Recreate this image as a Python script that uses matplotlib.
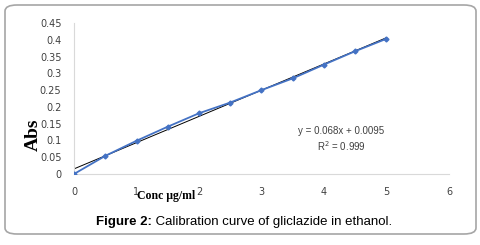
import matplotlib
matplotlib.use("Agg")
import matplotlib.pyplot as plt
from matplotlib.patches import FancyBboxPatch
from matplotlib.ticker import FormatStrFormatter
import numpy as np

# calibration data
conc = [0, 0.5, 1, 1.5, 2, 2.5, 3, 3.5, 4, 4.5, 5]
absorb = [0, 0.054, 0.099, 0.141, 0.181, 0.213, 0.25, 0.285, 0.326, 0.366, 0.403]
eq_text = "y = 0.068x + 0.0095"
r2_text = "R$^2$ = 0.999"
xticks = [0, 1, 2, 3, 4, 5, 6]
yticks = [0, 0.05, 0.1, 0.15, 0.2, 0.25, 0.3, 0.35, 0.4, 0.45]

fig = plt.figure(figsize=(4.81, 2.45), dpi=100)
fig.patch.set_facecolor("white")

# rounded frame around chart + caption
frame = FancyBboxPatch((5 / 481, 11 / 245), 471 / 481, 229 / 245,
                       boxstyle="round,pad=0,rounding_size=0.025",
                       transform=fig.transFigure, fill=False,
                       edgecolor="#a6a6a6", linewidth=1.2)
fig.patches.append(frame)

ax = fig.add_axes([74 / 481, 71 / 245, 375 / 481, 151 / 245])

# linear trendline fitted to the points
coef = np.polyfit(conc, absorb, 1)
xs = np.array([0, 5])
ax.plot(xs, np.polyval(coef, xs), color="black", lw=0.7, zorder=2)
ax.plot(conc, absorb, color="#4472C4", lw=1.3, marker="D", ms=2.5, zorder=3)

ax.set_xlim(0, 6)
ax.set_ylim(0, 0.45)
ax.set_xticks(xticks)
ax.set_yticks(yticks)
ax.yaxis.set_major_formatter(FormatStrFormatter("%g"))
ax.tick_params(length=0, labelsize=7, labelcolor="#404040")
ax.tick_params(axis="y", pad=9)
ax.tick_params(axis="x", pad=9)
for s in ["top", "right"]:
    ax.spines[s].set_visible(False)
for s in ["left", "bottom"]:
    ax.spines[s].set_color("#d9d9d9")
    ax.spines[s].set_linewidth(0.8)

ax.text(4.28, 0.128, eq_text, ha="center", va="center", fontsize=7,
        color="#404040", family="Liberation Sans")
ax.text(4.28, 0.083, r2_text, ha="center", va="center", fontsize=7,
        color="#404040", family="Liberation Sans")

fig.text(33 / 481, 1 - 135 / 245, "Abs", rotation=90, ha="center", va="center",
         fontsize=14, fontweight="bold", family="Liberation Serif")
fig.text(166 / 481, 1 - 196 / 245, "Conc µg/ml", ha="center", va="center",
         fontsize=8.5, fontweight="bold", family="Liberation Serif")

# caption: bold prefix followed by normal text
t1 = fig.text(96 / 481, 1 - 222 / 245, "Figure 2:", ha="left", va="center",
              fontsize=9.5, fontweight="bold", family="Liberation Sans")
fig.add_artist(matplotlib.text.Annotation(
    " Calibration curve of gliclazide in ethanol.", xy=(1, 0), xycoords=t1,
    va="bottom", ha="left", fontsize=9.5, family="Liberation Sans",
    annotation_clip=False))

fig.savefig("out.png", dpi=100)
